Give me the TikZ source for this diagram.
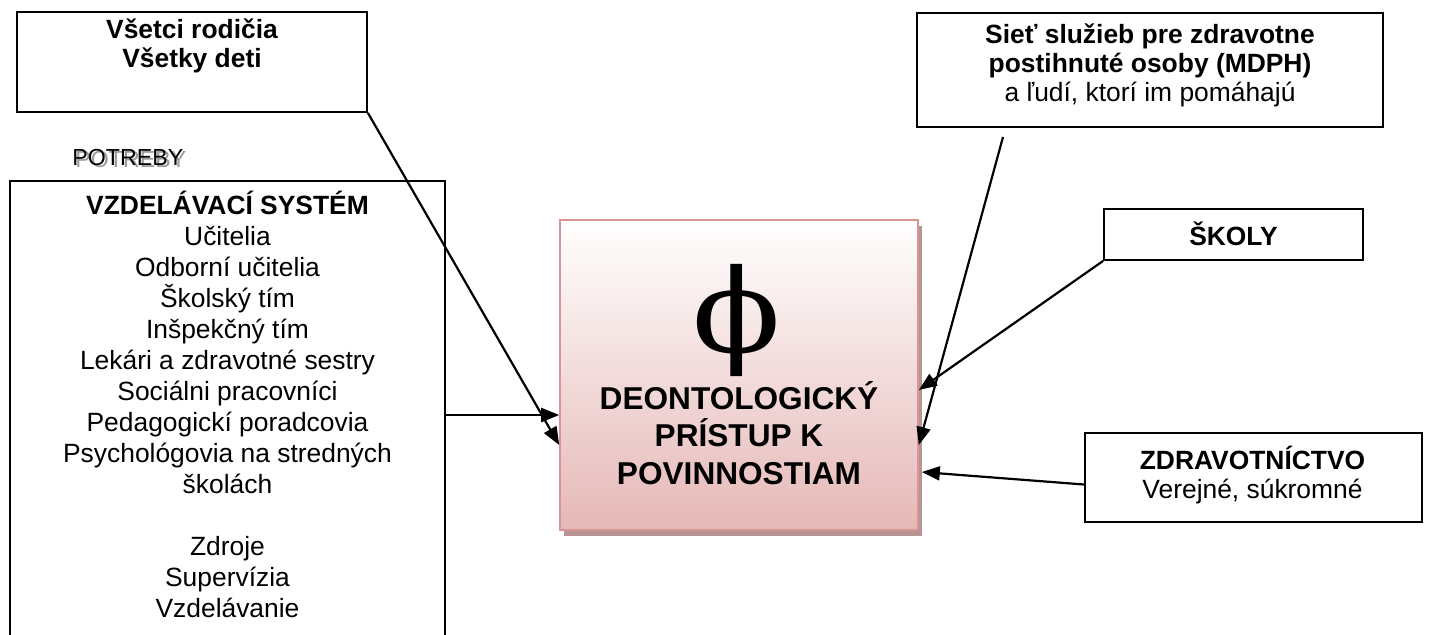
\documentclass[tikz,border=0pt]{standalone}
\usepackage{fontspec}
\setmainfont{Liberation Sans}
\newfontfamily\phifont{DejaVu Serif}
\usepackage{graphicx}
\usepackage{pdfrender}
\usetikzlibrary{arrows.meta,calc,shadows}
\definecolor{roseedge}{HTML}{D99594}
\definecolor{rosefill}{HTML}{E5B8B7}
\definecolor{roseshade}{HTML}{B89595}
\definecolor{ghost}{HTML}{9A9A9A}
\newcommand\bodysize{\fontsize{13.2}{14.5}\selectfont}
\newcommand\listsize{\fontsize{13.2}{15.5}\selectfont}
\newcommand\mainsize{\fontsize{15.8}{18.75}\selectfont}

\begin{document}
\begin{tikzpicture}[x=0.5pt,y=-0.5pt,
  frame/.style={draw=black,line width=0.9pt,rectangle,inner sep=0pt},
  body/.style={align=center,inner sep=0pt,font=\bodysize},
  conn/.style={line width=1.1pt,-{Triangle[length=9pt,width=7pt]}},
]
\clip (0,0) rectangle (1440,634);

% boxes
\node[frame,minimum width=175pt,minimum height=50pt] (vb) at (192,62) {};
\node[frame,minimum width=217.5pt,minimum height=260pt,anchor=north] (lb) at (227.5,180) {};
\node[frame,minimum width=233pt,minimum height=57pt] (sb) at (1150,70) {};
\node[frame,minimum width=129.5pt,minimum height=25.5pt] (sk) at (1233.5,234.5) {};
\node[frame,minimum width=168.5pt,minimum height=44.5pt] (zd) at (1253.5,477.5) {};

% central box with gradient and shadow
\node[rectangle,draw=roseedge,line width=0.8pt,top color=white,bottom color=rosefill,
      minimum width=179pt,minimum height=155pt,inner sep=0pt,
      drop shadow={shadow xshift=2pt,shadow yshift=-3pt,fill=roseshade,opacity=1}]
      (cb) at (739,375) {};

% texts
\node[body,font=\bodysize\bfseries] (vbt) at (192,46) {Všetci rodičia\\Všetky deti};
\node[body,font=\bodysize] (sbt) at (1150,65)
  {\textbf{Sieť služieb pre zdravotne}\\\textbf{postihnuté osoby (MDPH)}\\a ľudí, ktorí im pomáhajú};
\node[body,font=\bodysize\bfseries] (skt) at (1233.5,234) {ŠKOLY};
\node[body,font=\bodysize] (zdt) at (1252.5,475) {\textbf{ZDRAVOTNÍCTVO}\\Verejné, súkromné};
\node[body,font=\listsize] (lbt) at (227.5,404)
  {\textbf{VZDELÁVACÍ SYSTÉM}\\Učitelia\\Odborní učitelia\\Školský tím\\Inšpekčný tím\\
   Lekári a zdravotné sestry\\Sociálni pracovníci\\Pedagogickí poradcovia\\
   Psychológovia na stredných\\školách\\[15.5pt]Zdroje\\Supervízia\\Vzdelávanie};
\node[inner sep=0pt,font=\phifont\fontsize{58}{60}\selectfont] (phi) at (737,320) {\scalebox{1.12}[1]{ϕ}};
\node[body,font=\mainsize\bfseries] (cbt) at (739,433) {DEONTOLOGICKÝ\\PRÍSTUP K\\POVINNOSTIAM};

% outlined heading with shadow
\node[inner sep=0pt,anchor=west,font=\fontsize{11.6}{13}\selectfont,text=ghost] (potsh) at (75,160) {POTREBY};
\node[inner sep=0pt,anchor=west,font=\fontsize{11.6}{13}\selectfont] (pot) at (72,158)
  {\textpdfrender{TextRenderingMode=FillStroke,LineWidth=0.7pt,FillColor=white,StrokeColor=black}{POTREBY}};

% connectors
\coordinate (h2) at (0,415);
\coordinate (s3) at (1003,137);
\draw[conn] (vb.south east) -- ($(cb.west)+(0,70)$);
\draw[conn] (lb.east |- h2) -- (cb.west |- h2);
\draw[conn] (s3) -- ($(cb.east)+(0,70)$);
\draw[conn] (sk.south west) -- ($(cb.east)+(0,15)$);
\draw[conn] ($(zd.west)+(0,7)$) -- ($(cb.east)+(3,97)$);
\end{tikzpicture}
\end{document}
